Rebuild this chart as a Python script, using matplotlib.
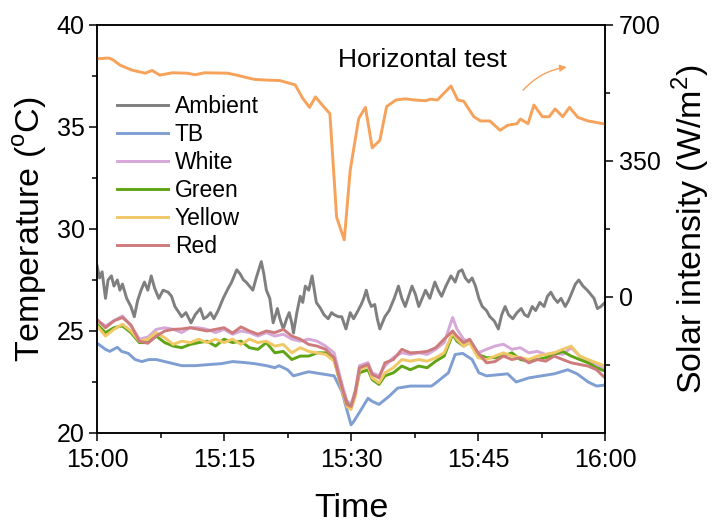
import matplotlib
matplotlib.use("Agg")
import matplotlib.pyplot as plt
from matplotlib.ticker import MultipleLocator, FixedLocator

plt.rcParams["font.family"] = ["Liberation Sans", "DejaVu Sans"]
plt.rcParams["mathtext.fontset"] = "custom"
plt.rcParams["mathtext.rm"] = "Liberation Sans"

# ambient temperature (minutes after 15:00, degC)
amb_t = [0, 0.3, 0.6, 1.0, 1.3, 1.7, 2.0, 2.4, 2.7, 3.0, 3.5, 4.0, 4.4, 4.8, 5.2, 5.6, 6.0, 6.4, 6.8, 7.3,
         7.8, 8.4, 8.8, 9.2, 10.0, 10.5, 11.1, 11.6, 12.2, 12.6, 13.0, 13.4, 13.8, 14.3, 14.9, 15.5, 15.9,
         16.2, 16.5, 16.9, 17.3, 17.6, 18.0, 18.4, 18.8, 19.1, 19.4, 19.7, 20.0, 20.4, 20.8, 21.1, 21.3,
         21.6, 22.0, 22.4, 22.7, 23.0, 23.2, 23.6, 24.0, 24.3, 24.6, 25.0, 25.4, 25.7, 25.9, 26.4, 26.8,
         27.3, 27.7, 28.0, 28.5, 28.9, 29.4, 29.9, 30.3, 30.7, 31.2, 31.5, 31.8, 32.1, 32.4, 32.8, 33.1,
         33.4, 34.0, 34.5, 35.1, 35.6, 36.0, 36.4, 36.8, 37.2, 37.6, 38.0, 38.4, 38.8, 39.3, 39.9, 40.3,
         40.7, 41.2, 41.8, 42.3, 42.7, 43.1, 43.5, 43.9, 44.3, 44.7, 45.1, 45.5, 46.0, 46.4, 46.9, 47.4,
         47.8, 48.2, 48.6, 49.1, 49.6, 50.1, 50.5, 50.9, 51.4, 51.8, 52.3, 52.8, 53.2, 53.6, 54.0, 54.4,
         54.8, 55.3, 55.7, 56.1, 56.5, 56.9, 57.4, 57.9, 58.3, 58.7, 59.1, 59.5, 60.0]
ambient = [28.2, 27.6, 27.9, 26.6, 27.5, 27.7, 27.2, 27.5, 27.0, 27.3, 26.6, 26.2, 25.7, 26.5, 27.0, 27.4,
           27.0, 27.7, 27.1, 26.6, 27.0, 26.9, 26.7, 26.2, 25.7, 25.9, 25.4, 25.8, 26.1, 25.6, 25.7, 25.9,
           25.6, 26.0, 26.6, 27.1, 27.4, 27.7, 28.0, 27.8, 27.5, 27.4, 27.2, 27.0, 27.6, 28.0, 28.4, 27.8,
           27.0, 26.6, 25.4, 25.8, 26.1, 25.6, 25.1, 25.6, 25.9, 25.4, 24.9, 25.9, 26.7, 26.4, 27.2, 27.0,
           27.7, 26.9, 26.4, 26.1, 25.8, 25.6, 25.9, 25.8, 25.7, 25.7, 25.1, 25.9, 25.6, 25.9, 26.3, 26.6,
           27.0, 26.5, 26.2, 26.3, 25.6, 25.1, 25.7, 26.0, 26.6, 27.2, 26.6, 26.2, 26.7, 27.2, 26.8, 26.2,
           26.6, 27.0, 26.6, 27.4, 27.0, 26.7, 27.2, 27.7, 27.4, 27.9, 28.0, 27.6, 27.4, 27.6, 27.2, 26.6,
           26.2, 26.0, 25.7, 25.5, 25.1, 25.8, 26.2, 25.8, 25.6, 25.9, 26.1, 25.8, 25.7, 26.2, 26.0, 26.4,
           26.2, 26.7, 26.9, 26.6, 26.4, 26.6, 26.2, 26.5, 26.9, 27.3, 27.5, 27.2, 27.0, 26.8, 26.6, 26.1,
           26.2, 26.4]

# TB sample
tb_t = [0, 1, 1.5, 2.4, 2.9, 3.7, 4.5, 5.3, 6.1, 7.0, 8.0, 9.0, 10.0, 11.6, 13.1, 14.7, 16.0, 17.5, 18.6,
        20.0, 21.0, 21.5, 22.5, 23.2, 24.5, 25.0, 26.5, 28.0, 28.9, 29.5, 30.0, 30.3, 31.2, 32.0, 32.5,
        33.3, 34.5, 35.5, 37.0, 39.5, 40.0, 41.5, 42.3, 43.2, 44.3, 45.1, 46.0, 48.5, 49.5, 51.0, 52.5,
        54.0, 55.6, 56.7, 58.0, 59.0, 60.0]
tb = [24.4, 24.1, 24.0, 24.2, 24.0, 23.9, 23.6, 23.5, 23.6, 23.6, 23.5, 23.4, 23.3, 23.3, 23.35, 23.4,
      23.5, 23.45, 23.4, 23.3, 23.2, 23.3, 23.1, 22.8, 22.95, 23.0, 22.9, 22.8, 22.05, 21.15, 20.4, 20.55,
      21.15, 21.7, 21.55, 21.4, 21.8, 22.2, 22.3, 22.3, 22.45, 22.95, 23.85, 23.9, 23.6, 22.95, 22.8,
      22.9, 22.5, 22.7, 22.8, 22.9, 23.1, 22.9, 22.5, 22.3, 22.35]

# painted samples share one time grid
paint_t = [0, 1, 2, 3, 4, 5, 6, 7, 8, 9, 10, 11, 12, 13, 14, 15, 16, 17, 18, 19, 20, 21, 22, 23, 24, 25,
           26, 27, 28, 28.5, 29, 29.5, 30, 30.5, 31, 32, 32.5, 33.3, 34, 35, 36, 37, 38, 39, 40, 41, 42,
           42.5, 43.3, 44, 45, 46, 47, 48, 49, 50, 51, 52, 53, 54, 55, 56, 57, 58, 59, 60]
white = [25.5, 25.25, 25.5, 25.74, 25.25, 24.6, 24.7, 25.08, 25.16, 25.08, 24.92, 25.16, 25.16, 25.08,
         24.92, 25.08, 24.84, 25.0, 24.92, 24.75, 24.92, 24.75, 24.84, 24.6, 24.5, 24.6, 24.5, 24.26,
         23.93, 23.1, 22.3, 21.6, 21.4, 22.1, 23.3, 23.45, 22.95, 22.8, 23.28, 23.7, 23.93, 23.85, 23.93,
         23.85, 24.1, 24.43, 25.66, 25.1, 24.6, 24.43, 23.93, 24.1, 24.26, 24.35, 24.1, 24.18, 23.93,
         24.0, 23.85, 23.93, 23.85, 24.18, 23.77, 23.52, 23.36, 23.1]
green = [25.33, 24.92, 25.16, 25.25, 24.92, 24.43, 24.43, 24.75, 24.43, 24.26, 24.18, 24.34, 24.43, 24.5,
         24.26, 24.6, 24.43, 24.5, 24.18, 24.1, 24.43, 23.93, 24.0, 23.6, 23.77, 23.77, 23.93, 23.93,
         23.6, 22.8, 22.05, 21.48, 21.23, 21.97, 22.95, 23.1, 22.62, 22.38, 22.8, 22.95, 23.28, 23.1,
         23.28, 23.2, 23.52, 23.77, 24.84, 24.5, 24.26, 24.43, 23.85, 23.69, 23.69, 23.77, 23.93, 23.6,
         23.52, 23.6, 23.69, 23.85, 24.0, 23.77, 23.6, 23.44, 23.2, 23.03]
yellow = [25.25, 24.75, 25.08, 25.33, 25.0, 24.5, 24.6, 24.92, 24.67, 24.34, 24.5, 24.43, 24.6, 24.43,
          24.6, 24.43, 24.6, 24.34, 24.6, 24.43, 24.5, 24.26, 24.34, 23.93, 24.18, 24.0, 23.93, 23.85,
          23.52, 22.8, 21.97, 21.3, 21.15, 21.8, 23.1, 23.28, 22.7, 22.46, 22.95, 23.2, 23.6, 23.52, 23.6,
          23.52, 23.69, 23.93, 24.92, 24.6, 24.26, 24.43, 23.69, 23.6, 23.77, 23.93, 23.77, 23.69, 23.6,
          23.77, 23.85, 23.93, 24.1, 24.26, 23.77, 23.6, 23.44, 23.28]
red = [25.57, 25.16, 25.5, 25.66, 25.3, 24.5, 24.4, 24.75, 25.0, 25.08, 25.1, 25.16, 25.08, 25.0, 25.08,
       25.16, 24.9, 25.2, 25.0, 24.84, 25.0, 24.92, 25.08, 24.75, 24.6, 24.34, 24.26, 24.1, 23.69, 22.9,
       22.13, 21.4, 21.3, 21.97, 23.2, 23.36, 22.87, 22.7, 23.44, 23.6, 24.1, 23.93, 23.95, 24.0, 24.18,
       24.6, 25.0, 24.75, 24.43, 24.6, 23.93, 23.44, 23.5, 23.77, 23.6, 23.69, 23.44, 23.6, 23.52, 23.77,
       23.6, 23.44, 23.36, 23.28, 23.1, 22.7]

# solar intensity (W/m2)
sun_t = [0, 1.4, 1.9, 2.7, 4.1, 5.7, 6.5, 7.4, 8.9, 10.6, 11.6, 12.7, 15.4, 16.5, 17.6, 18.6, 20.2, 21.6,
         22.4, 23.4, 24.3, 25.1, 25.8, 26.6, 27.5, 28.3, 29.2, 29.9, 30.9, 31.7, 32.5, 33.4, 34.2, 35.3,
         36.4, 37.5, 38.8, 39.4, 40.2, 41.8, 42.6, 43.3, 44.5, 45.3, 46.4, 47.6, 48.5, 49.6, 50.0, 50.9,
         51.6, 52.6, 53.4, 54.1, 55.0, 55.8, 56.8, 58.0, 60.0]
solar = [613, 615, 610, 597, 584, 576, 583, 571, 577, 576, 572, 577, 576, 571, 565, 560, 558, 557, 552,
         546, 511, 488, 515, 494, 472, 205, 147, 326, 459, 488, 384, 403, 490, 507, 510, 507, 505, 509,
         507, 543, 507, 504, 464, 453, 453, 429, 442, 446, 458, 446, 494, 464, 464, 484, 464, 488, 462,
         453, 445]

fig = plt.figure(figsize=(7.14, 5.24), dpi=100)
ax = fig.add_axes([0.1359, 0.1737, 0.7115, 0.7786])
ax2 = ax.twinx()

lw = 2.1
ax.plot(amb_t, ambient, color="#7f7f7f", lw=lw, label="Ambient")
ax.plot(tb_t, tb, color="#7f9ed2", lw=lw, label="TB")
ax.plot(paint_t, white, color="#d5a8d8", lw=lw, label="White")
ax.plot(paint_t, green, color="#5fa414", lw=lw, label="Green")
ax.plot(paint_t, yellow, color="#f0c866", lw=lw, label="Yellow")
ax.plot(paint_t, red, color="#cd7b7c", lw=lw, label="Red")
ax2.plot(sun_t, solar, color="#f7a25a", lw=lw)

ax.set_xlim(0, 60)
ax.set_ylim(20, 40)
ax2.set_ylim(-350, 700)
ax.set_xticks([0, 15, 30, 45, 60])
ax.set_xticklabels(["15:00", "15:15", "15:30", "15:45", "16:00"])
ax.xaxis.set_minor_locator(MultipleLocator(7.5))
ax.yaxis.set_major_locator(MultipleLocator(5))
ax.yaxis.set_minor_locator(MultipleLocator(2.5))
ax2.yaxis.set_major_locator(FixedLocator([0, 350, 700]))
ax2.yaxis.set_minor_locator(FixedLocator([-175, 175, 525]))

for a in (ax, ax2):
    a.tick_params(which="major", direction="out", length=6, width=1.1, labelsize=18)
    a.tick_params(which="minor", direction="out", length=3.5, width=1.1)
    for s in a.spines.values():
        s.set_linewidth(1.1)
ax.tick_params(axis="y", pad=3)
ax.tick_params(axis="x", pad=5)
ax2.tick_params(axis="y", pad=4)

ax.set_ylabel("Temperature ($^{\\mathrm{o}}$C)", fontsize=24.5)
ax2.set_ylabel("Solar intensity (W/m$^{\\mathrm{2}}$)", fontsize=24.5)
ax.set_xlabel("Time", fontsize=24.5)
ax.yaxis.set_label_coords(-0.094, 0.5)
ax2.yaxis.set_label_coords(1.127, 0.5)
ax.xaxis.set_label_coords(0.5, -0.147)

ax.text(38.4, 38.3, "Horizontal test", fontsize=19, ha="center", va="center")
ax.annotate("", xy=(55.8, 37.95), xytext=(50.1, 36.7),
            arrowprops=dict(arrowstyle="-|>", color="#f7a25a", lw=1.0,
                            connectionstyle="arc3,rad=-0.2", mutation_scale=10))

ax.legend(loc="upper left", bbox_to_anchor=(0.022, 0.852), frameon=False, fontsize=16.5,
          handlelength=2.2, handletextpad=0.3, labelspacing=0.22, borderaxespad=0)

fig.savefig("out.png", dpi=100)
